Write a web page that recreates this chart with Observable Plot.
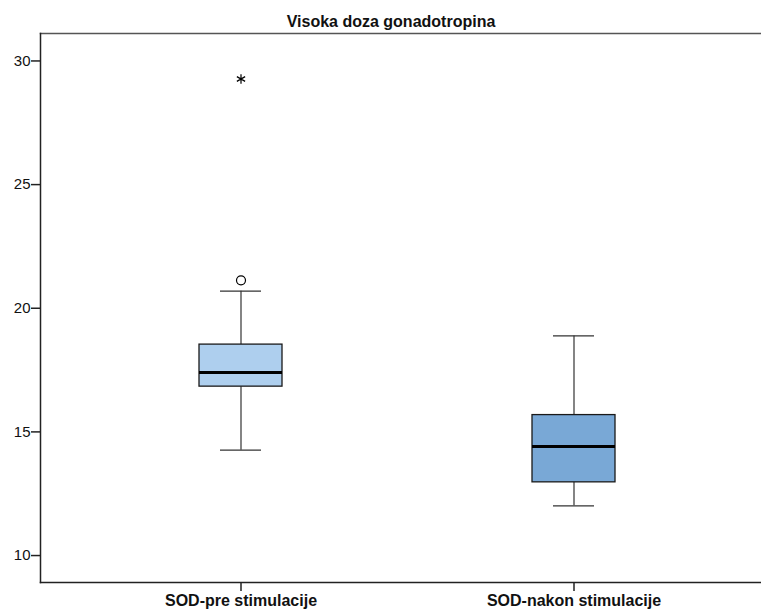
<!DOCTYPE html>
<html>
<head>
<meta charset="utf-8">
<script src="https://cdn.jsdelivr.net/npm/d3@7"></script>
<script src="https://cdn.jsdelivr.net/npm/@observablehq/plot@0.6"></script>
<style>
  html, body { margin: 0; padding: 0; background: #fff; }
  #chart svg { display: block; font-family: "Liberation Sans", Arial, sans-serif; }
</style>
</head>
<body>
<div id="chart"></div>
<script>
// Box plot summaries for SOD before and after stimulation (high gonadotropin dose)
const categories = ["SOD-pre stimulacije", "SOD-nakon stimulacije"];
const whiskerLow = [14.26, 12.01];
const quartile1 = [16.83, 12.96];
const medians = [17.40, 14.41];
const quartile3 = [18.53, 15.68];
const whiskerHigh = [20.69, 18.88];
const boxColors = ["#aecfee", "#79a8d6"];

// Individual outliers (circle) and extremes (asterisk)
const outlierCategory = ["SOD-pre stimulacije"];
const outlierValues = [21.13];
const extremeCategory = ["SOD-pre stimulacije"];
const extremeValues = [29.27];

const yTicks = [10, 15, 20, 25, 30];
const title = "Visoka doza gonadotropina";

const boxes = categories.map((c, i) => ({
  cat: c, lo: whiskerLow[i], q1: quartile1[i], med: medians[i],
  q3: quartile3[i], hi: whiskerHigh[i], color: boxColors[i]
}));
const outliers = outlierValues.map((v, i) => ({cat: outlierCategory[i], v}));
const extremes = extremeValues.map((v, i) => ({cat: extremeCategory[i], v}));

const chart = Plot.plot({
  width: 761,
  height: 613,
  marginLeft: 40,
  marginRight: 0,
  marginTop: 33,
  marginBottom: 31,
  x: {type: "band", domain: categories, range: [73.5, 739.5], padding: 0},
  y: {domain: [8.91, 31.11]},
  marks: [
    Plot.frame({anchor: "top", stroke: "#555", strokeWidth: 1.5}),
    Plot.frame({anchor: "left", stroke: "#222", strokeWidth: 1.5}),
    Plot.frame({anchor: "bottom", stroke: "#222", strokeWidth: 1.5}),
    // whiskers
    Plot.ruleX(boxes, {x: "cat", y1: "lo", y2: "q1", stroke: "#333", strokeWidth: 1.2}),
    Plot.ruleX(boxes, {x: "cat", y1: "q3", y2: "hi", stroke: "#333", strokeWidth: 1.2}),
    Plot.tickY(boxes, {x: "cat", y: "lo", insetLeft: 146, insetRight: 146, stroke: "#333", strokeWidth: 1.2}),
    Plot.tickY(boxes, {x: "cat", y: "hi", insetLeft: 146, insetRight: 146, stroke: "#333", strokeWidth: 1.2}),
    // boxes
    Plot.barY(boxes, {x: "cat", y1: "q1", y2: "q3", fill: "color", stroke: "#1a1a1a", strokeWidth: 1.3, insetLeft: 125, insetRight: 125}),
    Plot.tickY(boxes, {x: "cat", y: "med", insetLeft: 125, insetRight: 125, stroke: "#000", strokeWidth: 3}),
    // outliers
    Plot.dot(outliers, {x: "cat", y: "v", r: 4.5, stroke: "#000", fill: "#fff", strokeWidth: 1.2}),
    Plot.dot(extremes, {x: "cat", y: "v", r: 4.5, symbol: "asterisk", stroke: "#000", strokeWidth: 1.2}),
    // axes
    Plot.axisY({ticks: yTicks, tickSize: 9, tickPadding: 1, label: null, fontSize: 15, stroke: "#222", strokeWidth: 1.5, fill: "#111"}),
    Plot.axisX({tickSize: 9, tickPadding: 3, label: null, fontSize: 16, fontWeight: "bold", stroke: "#222", strokeWidth: 1.5, fill: "#111"}),
    // title
    Plot.text([title], {frameAnchor: "top", dx: -10, dy: -7, lineAnchor: "bottom", fontSize: 16, fontWeight: "bold", fill: "#111"})
  ]
});
document.getElementById("chart").appendChild(chart);
</script>
</body>
</html>
